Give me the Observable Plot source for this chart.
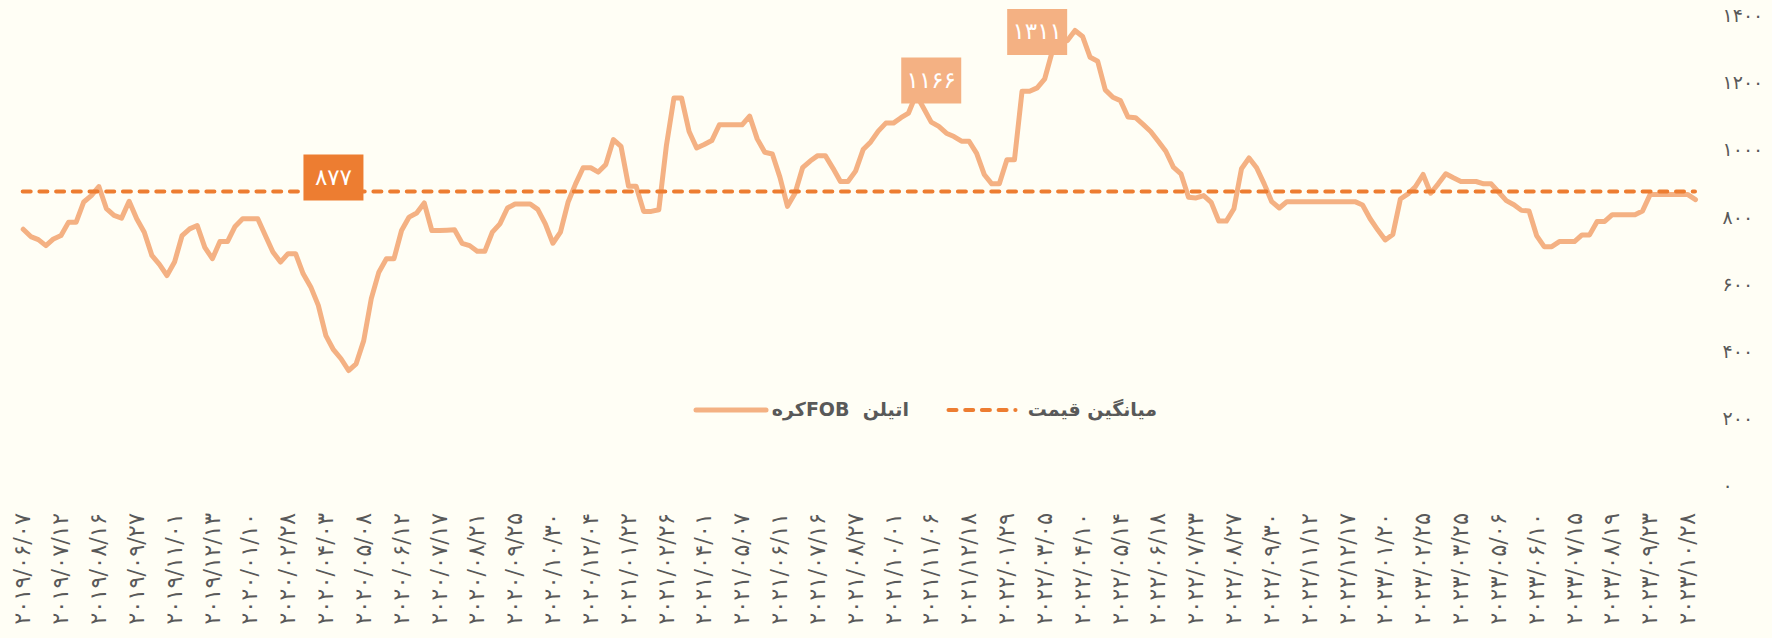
<!DOCTYPE html>
<html><head><meta charset="utf-8">
<script src="https://cdn.jsdelivr.net/npm/d3@7"></script>
<script src="https://cdn.jsdelivr.net/npm/@observablehq/plot@0.6"></script>
<style>
html,body{margin:0;padding:0;background:#fffef5;overflow:hidden}
#wrap{position:relative;width:1772px;height:638px;background:#fffef5}
.lg{position:absolute;font-family:"DejaVu Sans",sans-serif;font-weight:bold;font-size:19px;color:#595959;direction:rtl;white-space:pre;line-height:1}
.sw{position:absolute}
</style></head><body><div id="wrap"></div>
<script>
// Category (tick) labels – every fifth weekly observation
const xLabels = [
"۲۰۱۹/۰۶/۰۷","۲۰۱۹/۰۷/۱۲","۲۰۱۹/۰۸/۱۶","۲۰۱۹/۰۹/۲۷","۲۰۱۹/۱۱/۰۱","۲۰۱۹/۱۲/۱۳","۲۰۲۰/۰۱/۱۰","۲۰۲۰/۰۲/۲۸","۲۰۲۰/۰۴/۰۳","۲۰۲۰/۰۵/۰۸","۲۰۲۰/۰۶/۱۲","۲۰۲۰/۰۷/۱۷","۲۰۲۰/۰۸/۲۱","۲۰۲۰/۰۹/۲۵","۲۰۲۰/۱۰/۳۰","۲۰۲۰/۱۲/۰۴",
"۲۰۲۱/۰۱/۲۲","۲۰۲۱/۰۲/۲۶","۲۰۲۱/۰۴/۰۱","۲۰۲۱/۰۵/۰۷","۲۰۲۱/۰۶/۱۱","۲۰۲۱/۰۷/۱۶","۲۰۲۱/۰۸/۲۷","۲۰۲۱/۱۰/۰۱","۲۰۲۱/۱۱/۰۶","۲۰۲۱/۱۲/۱۸",
"۲۰۲۲/۰۱/۲۹","۲۰۲۲/۰۳/۰۵","۲۰۲۲/۰۴/۱۰","۲۰۲۲/۰۵/۱۴","۲۰۲۲/۰۶/۱۸","۲۰۲۲/۰۷/۲۳","۲۰۲۲/۰۸/۲۷","۲۰۲۲/۰۹/۳۰","۲۰۲۲/۱۱/۱۲","۲۰۲۲/۱۲/۱۷",
"۲۰۲۳/۰۱/۲۰","۲۰۲۳/۰۲/۲۵","۲۰۲۳/۰۳/۲۵","۲۰۲۳/۰۵/۰۶","۲۰۲۳/۰۶/۱۰","۲۰۲۳/۰۷/۱۵","۲۰۲۳/۰۸/۱۹","۲۰۲۳/۰۹/۲۳","۲۰۲۳/۱۰/۲۸"];

// Weekly price series (USD/t)
const prices = [
765,743,734,716,736,746,786,786,846,865,
892,826,806,798,848,796,756,687,660,627,
667,746,766,776,711,677,728,728,773,796,
796,796,746,697,667,692,692,632,593,538,
448,406,379,344,364,433,558,637,677,677,
761,801,813,843,761,761,762,763,723,716,
699,699,756,781,828,840,840,840,824,781,
723,756,845,900,948,948,935,958,1032,1012,
893,893,818,818,823,1014,1156,1156,1056,1007,
1017,1029,1076,1076,1076,1076,1102,1034,994,989,
920,833,872,948,968,984,984,947,907,907,
938,1002,1025,1057,1081,1081,1097,1111,1166,1125,
1084,1071,1051,1041,1027,1027,991,928,900,900,
972,972,1176,1176,1186,1213,1295,1343,1327,1357,
1339,1277,1265,1180,1158,1148,1099,1097,1077,1056,
1027,997,950,930,860,858,865,845,789,789,
826,945,977,948,900,847,828,847,847,847,
847,847,847,847,847,847,847,837,796,763,
733,749,855,870,892,928,872,900,930,918,
907,907,907,900,900,875,850,838,821,819,
746,713,713,728,728,728,748,748,788,788,
808,808,808,808,819,868,868,868,868,868,
868,853];

const avgPrice = 877;
const yTicks = [0,200,400,600,800,1000,1200,1400];

// Annotation boxes
const noteValues = [877, 1166, 1311];
const noteIndex = [41, 120, 134];
const noteColors = ["#ED7D31", "#F4B183", "#F4B183"];

const seriesName = "اتیلن  FOBکره";
const avgName = "میانگین قیمت";

const lineColor = "#F4B183";
const avgColor = "#ED7D31";

const faDigits = "۰۱۲۳۴۵۶۷۸۹";
const toFa = v => String(v).replace(/\d/g, d => faDigits[+d]);

const series = prices.map((v, i) => ({i, v}));
const notes = noteValues.map((v, k) => ({i: noteIndex[k], v, c: noteColors[k], t: toFa(v)}));

const boxSymbol = {draw(ctx) { ctx.rect(-30, -23, 60, 46); }};

const plot = Plot.plot({
  width: 1772,
  height: 638,
  marginLeft: 22.7,
  marginRight: 77,
  marginTop: 15.5,
  marginBottom: 152.5,
  style: {background: "transparent", fontFamily: "'DejaVu Sans', sans-serif", fontSize: "20px", color: "#595959", overflow: "visible"},
  x: {type: "linear", domain: [0, prices.length - 1], ticks: xLabels.map((_, k) => k * 5),
      tickFormat: i => xLabels[Math.round(i / 5)], tickRotate: -90, tickSize: 0, tickPadding: 27, label: null},
  y: {domain: [0, 1400], ticks: yTicks, tickFormat: toFa, tickSize: 0, tickPadding: 27, label: null, axis: "right"},
  marks: [
    Plot.line(series, {x: "i", y: "v", stroke: lineColor, strokeWidth: 5, strokeLinejoin: "round", strokeLinecap: "round"}),
    Plot.ruleY([avgPrice], {stroke: avgColor, strokeWidth: 4, strokeDasharray: "8 8.7", strokeLinecap: "round"}),
    Plot.dot(notes, {x: "i", y: "v", symbol: boxSymbol, r: 10, fill: "c", stroke: null, dy: -14}),
    Plot.text(notes, {x: "i", y: "v", text: "t", fill: "#ffffff", fontSize: 23, dy: -14})
  ]
});
// slightly larger tick text, as in the reference
d3.select(plot).selectAll('g[aria-label="x-axis tick label"], g[aria-label="x-axis"]').attr("font-size", 22.5);
d3.select(plot).selectAll('g[aria-label="y-axis tick label"], g[aria-label="y-axis"]').attr("font-size", 19);
plot.style.position = "absolute";
plot.style.left = "0px";
plot.style.top = "0px";
const wrap = document.getElementById("wrap");
wrap.appendChild(plot);

// Legend (sits inside the plot area, centred)
function addText(txt, right, top) {
  const d = document.createElement("div");
  d.className = "lg";
  d.textContent = txt;
  d.style.right = right + "px";
  d.style.top = top + "px";
  wrap.appendChild(d);
}
function addSwatch(left, top, w, color, sw, dash) {
  const ns = "http://www.w3.org/2000/svg";
  const s = document.createElementNS(ns, "svg");
  s.setAttribute("class", "sw");
  s.setAttribute("width", w);
  s.setAttribute("height", 12);
  s.style.left = left + "px";
  s.style.top = top + "px";
  const l = document.createElementNS(ns, "line");
  l.setAttribute("x1", sw / 2 + 0.5); l.setAttribute("x2", w - sw / 2 - 0.5);
  l.setAttribute("y1", 6); l.setAttribute("y2", 6);
  l.setAttribute("stroke", color); l.setAttribute("stroke-width", sw);
  l.setAttribute("stroke-linecap", "round");
  if (dash) l.setAttribute("stroke-dasharray", dash);
  s.appendChild(l);
  wrap.appendChild(s);
}
addSwatch(693, 404, 76, lineColor, 5, null);
addText(seriesName, 863, 400);
addSwatch(946, 404, 72, avgColor, 4, "8 8.7");
addText(avgName, 615, 400);
</script>
</body></html>
